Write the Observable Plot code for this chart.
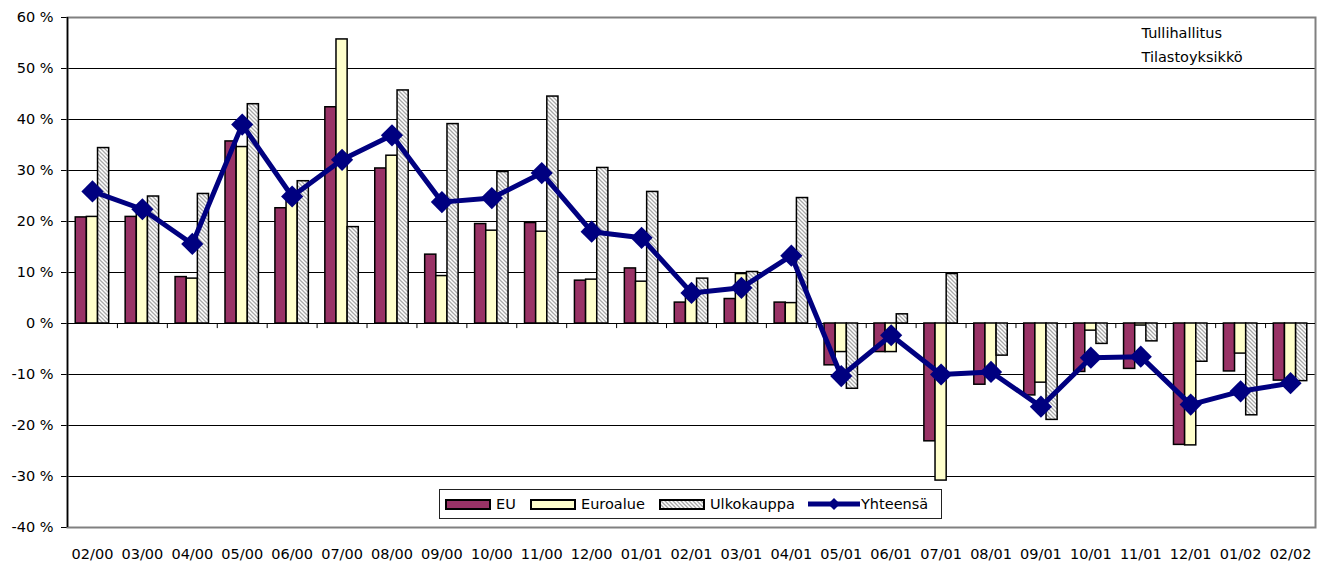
<!DOCTYPE html>
<html>
<head>
<meta charset="utf-8">
<script src="https://cdn.jsdelivr.net/npm/d3@7"></script>
<script src="https://cdn.jsdelivr.net/npm/@observablehq/plot@0.6"></script>
<style>
  body { margin: 0; background: #fff; }
  #wrap { position: relative; width: 1331px; height: 564px; font-family: "DejaVu Sans", sans-serif; }
  #legend { position: absolute; left: 439px; top: 489px; width: 503px; height: 30px; box-sizing: border-box;
            border: 1px solid #222; background: #fff; font-size: 14.5px; color: #000; }
  #legend .item { position: absolute; top: 0; height: 28px; display: flex; align-items: center; }
  #legend .sw { width: 46px; height: 11px; box-sizing: border-box; border: 2px solid #000; margin-right: 5px; }
</style>
</head>
<body>
<div id="wrap"></div>
<script>
// ---- data ----
const months = ["02/00","03/00","04/00","05/00","06/00","07/00","08/00","09/00","10/00","11/00","12/00","01/01","02/01","03/01","04/01","05/01","06/01","07/01","08/01","09/01","10/01","11/01","12/01","01/02","02/02"];
const eu    = [20.8, 20.9, 9.1, 35.7, 22.6, 42.4, 30.4, 13.5, 19.5, 19.7, 8.4, 10.8, 4.1, 4.8, 4.1, -8.2, -5.6, -23.1, -12.0, -14.1, -9.5, -8.9, -23.8, -9.4, -11.2];
const euroalue = [20.9, 22.0, 8.8, 34.6, 24.0, 55.7, 32.9, 9.3, 18.2, 18.0, 8.6, 8.2, 6.0, 9.7, 4.0, -5.6, -5.6, -30.8, -9.0, -11.6, -1.4, -0.4, -23.9, -5.9, -11.0];
const ulkokauppa = [34.4, 24.9, 25.4, 43.0, 27.9, 18.9, 45.7, 39.1, 29.7, 44.5, 30.5, 25.8, 8.8, 10.1, 24.6, -12.8, 1.8, 9.7, -6.3, -18.9, -4.0, -3.5, -7.5, -18.0, -11.3];
const yhteensa = [25.9, 22.4, 15.6, 39.0, 24.9, 32.1, 36.9, 23.8, 24.6, 29.5, 18.0, 16.8, 6.0, 7.0, 13.3, -10.3, -2.3, -10.0, -9.5, -16.3, -6.7, -6.5, -15.9, -13.3, -11.7];
const yTicks = [-40, -30, -20, -10, 0, 10, 20, 30, 40, 50, 60];
const gridLines = [-30, -20, -10, 10, 20, 30, 40, 50];
const seriesNames = ["EU", "Euroalue", "Ulkokauppa", "Yhteensä"];
const sourceText = "Tullihallitus\nTilastoyksikkö";

const rows = months.map((m, i) => ({month: m, eu: eu[i], euro: euroalue[i], ulko: ulkokauppa[i], total: yhteensa[i]}));

// ---- layout ----
const W = 1331, H = 564, mL = 67, mR = 16, mT = 17, mB = 37;
const pIn = 0.33, pOut = 0.165;
const step = (W - mL - mR) / (months.length - pIn + 2 * pOut);
const bw = step * (1 - pIn);
const third = bw / 3;
const navy = "#000080";

const chart = Plot.plot({
  width: W, height: H,
  marginLeft: mL, marginRight: mR, marginTop: mT, marginBottom: mB,
  style: {fontFamily: "DejaVu Sans, sans-serif", fontSize: "14.5px", color: "#000", background: "#fff", overflow: "visible"},
  x: {domain: months, paddingInner: pIn, paddingOuter: pOut, round: false, label: null, tickSize: 0, tickPadding: 21},
  y: {domain: [-40, 60], ticks: yTicks.length - 1, tickFormat: d => `${d} %`, label: null, tickSize: 6, tickPadding: 8},
  marks: [
    Plot.ruleY(gridLines, {stroke: "#000", strokeWidth: 1}),
    Plot.frame({stroke: "#808080", strokeWidth: 2}),
    Plot.ruleX([months[0]], {dx: -step / 2, y1: -40, y2: 60, stroke: "#000", strokeWidth: 1.5}),
    Plot.ruleY([0], {stroke: "#000", strokeWidth: 1}),
    Plot.ruleX(months.slice(1), {dx: -step / 2, y1: 0, y2: -1, stroke: "#000", strokeWidth: 1}),
    Plot.barY(rows, {x: "month", y: "eu", fill: "#993366", stroke: "#000", strokeWidth: 1.5, insetLeft: 0, insetRight: 2 * third}),
    Plot.barY(rows, {x: "month", y: "euro", fill: "#FFFFCC", stroke: "#000", strokeWidth: 1.5, insetLeft: third, insetRight: third}),
    Plot.barY(rows, {x: "month", y: "ulko", fill: "url(#hatch)", stroke: "#000", strokeWidth: 1.5, insetLeft: 2 * third, insetRight: 0}),
    Plot.line(rows, {x: "month", y: "total", stroke: navy, strokeWidth: 5, strokeLinejoin: "miter"}),
    Plot.dot(rows, {x: "month", y: "total", symbol: "diamond2", r: 10, fill: navy, stroke: null}),
    Plot.text([sourceText], {frameAnchor: "top-right", textAnchor: "start", lineAnchor: "top", dx: -174, dy: 4, lineHeight: 1.65, fill: "#000", fontSize: 14.5})
  ]
});

// hatch pattern
const ns = "http://www.w3.org/2000/svg";
function addHatch(svg, id) {
  const defs = document.createElementNS(ns, "defs");
  defs.innerHTML = `<pattern id="${id}" patternUnits="userSpaceOnUse" width="4" height="4">
      <rect width="4" height="4" fill="#fff"/>
      <path d="M-1,-1 L5,5 M-1,3 L1,5 M3,-1 L5,1" stroke="#a8a8a8" stroke-width="1.3"/>
    </pattern>`;
  svg.insertBefore(defs, svg.firstChild);
}
addHatch(chart, "hatch");

const wrap = document.getElementById("wrap");
wrap.appendChild(chart);

// legend (inside plot area, as in the reference)
const legend = document.createElement("div");
legend.id = "legend";
const colors = ["#993366", "#FFFFCC", "hatch"];
const lefts = [5, 90, 219, 368];
seriesNames.forEach((name, i) => {
  const item = document.createElement("div");
  item.className = "item";
  item.style.left = lefts[i] + "px";
  if (i < 3) {
    if (colors[i] === "hatch") {
      item.innerHTML = `<svg width="46" height="11" style="margin-right:5px">
        <defs><pattern id="hatchL" patternUnits="userSpaceOnUse" width="4" height="4">
        <rect width="4" height="4" fill="#fff"/>
        <path d="M-1,-1 L5,5 M-1,3 L1,5 M3,-1 L5,1" stroke="#a8a8a8" stroke-width="1.3"/></pattern></defs>
        <rect x="1" y="1" width="44" height="9" fill="url(#hatchL)" stroke="#000" stroke-width="2"/></svg><span>${name}</span>`;
    } else {
      item.innerHTML = `<div class="sw" style="background:${colors[i]}"></div><span>${name}</span>`;
    }
  } else {
    item.innerHTML = `<svg width="52" height="16" style="margin-right:1px">
      <line x1="0" y1="8" x2="52" y2="8" stroke="${navy}" stroke-width="5"/>
      <path d="M26,2 L32,8 L26,14 L20,8 Z" fill="${navy}"/></svg><span>${name}</span>`;
  }
  legend.appendChild(item);
});
wrap.appendChild(legend);
</script>
</body>
</html>
